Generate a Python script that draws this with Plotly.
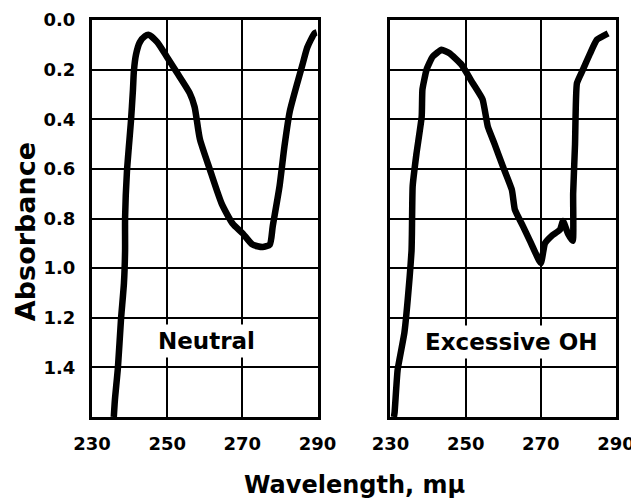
import plotly.graph_objects as go
from plotly.subplots import make_subplots

# Neutral curve (wavelength mμ, absorbance)
neutral_x = [235.8, 236.1, 236.9, 237.7, 238.5, 238.8, 238.8, 239.3, 240.35, 240.9, 241.15, 241.7, 242.7,
             244.1, 245.1, 247.3, 249.9, 252.5, 256.0, 257.3, 258.7, 261.3, 264.5, 267.4, 270.1,
             272.7, 275.4, 277.3, 278.1, 279.9, 281.2, 282.6, 284.7, 286.0, 287.3, 289.2, 289.8]
neutral_y = [1.60, 1.53, 1.40, 1.21, 1.06, 0.93, 0.80, 0.61, 0.41, 0.28, 0.205, 0.14, 0.09,
             0.065, 0.06, 0.088, 0.148, 0.21, 0.295, 0.35, 0.48, 0.60, 0.74, 0.82, 0.86,
             0.905, 0.915, 0.905, 0.83, 0.67, 0.51, 0.37, 0.25, 0.18, 0.11, 0.054, 0.05]

# Excessive OH curve
oh_x = [230.9, 231.1, 231.9, 233.7, 235.1, 235.6, 235.7, 235.9, 236.9, 238.3, 238.5, 239.6, 241.2,
        243.6, 245.7, 248.9, 251.9, 254.5, 255.9, 257.7, 259.9, 262.3, 263.1, 265.2, 267.1,
        270.0, 271.1, 272.9, 275.1, 275.9, 277.2, 278.5, 278.6, 279.1, 279.6, 281.2, 283.1,
        284.9, 287.9]
oh_y = [1.60, 1.58, 1.41, 1.26, 1.035, 0.93, 0.86, 0.67, 0.54, 0.39, 0.28, 0.20, 0.148,
        0.12, 0.134, 0.18, 0.255, 0.32, 0.43, 0.50, 0.59, 0.685, 0.765, 0.83, 0.89,
        0.98, 0.90, 0.87, 0.845, 0.81, 0.86, 0.89, 0.70, 0.50, 0.255, 0.20, 0.135,
        0.08, 0.054]

x_ticks = [230, 250, 270, 290]
y_grid = [0.0, 0.2, 0.4, 0.6, 0.8, 1.0, 1.2, 1.4, 1.6]
panel_labels = ["Neutral", "Excessive OH"]
label_pos = [(260.4, 1.294), (262.1, 1.298)]

FONT = "DejaVu Sans"

fig = make_subplots(rows=1, cols=2, horizontal_spacing=0.1393)

fig.add_trace(go.Scatter(x=neutral_x, y=neutral_y, mode="lines",
                         line=dict(color="black", width=6.5, shape="spline", smoothing=0.6),
                         showlegend=False), row=1, col=1)
fig.add_trace(go.Scatter(x=oh_x, y=oh_y, mode="lines",
                         line=dict(color="black", width=6.5, shape="spline", smoothing=0.4),
                         showlegend=False), row=1, col=2)

for c in (1, 2):
    fig.update_xaxes(row=1, col=c, range=[230, 290], tickvals=x_ticks,
                     ticktext=[f"<b>{v}</b>" for v in x_ticks],
                     showgrid=True, gridcolor="black", gridwidth=1.5,
                     showline=True, linecolor="black", linewidth=3, mirror=True,
                     ticks="", zeroline=False, ticklabelstandoff=8, automargin=False,
                     tickfont=dict(family=FONT, size=18, color="black"))
    fig.update_yaxes(row=1, col=c, range=[1.6, 0], tickvals=y_grid,
                     ticktext=[f"<b>{v:.1f}</b>" if (c == 1 and v < 1.5) else "" for v in y_grid],
                     showticklabels=(c == 1),
                     showgrid=True, gridcolor="black", gridwidth=1.5,
                     showline=True, linecolor="black", linewidth=3, mirror=True,
                     ticks="", zeroline=False, ticklabelstandoff=10, automargin=False,
                     tickfont=dict(family=FONT, size=18, color="black"))

for i, (txt, (ax, ay)) in enumerate(zip(panel_labels, label_pos)):
    fig.add_annotation(x=ax, y=ay, xref=f"x{'' if i == 0 else 2}", yref=f"y{'' if i == 0 else 2}",
                       text=f"<b>{txt}</b>", showarrow=False, bgcolor="white", borderpad=3,
                       xanchor="center", yanchor="middle",
                       font=dict(family=FONT, size=23, color="black"))

fig.add_annotation(x=0.5, y=-0.171, xref="paper", yref="paper", text="<b>Wavelength, mμ</b>",
                   xanchor="center", yanchor="middle",
                   showarrow=False, font=dict(family=FONT, size=24, color="black"))
fig.add_annotation(x=-0.128, y=0.468, xref="paper", yref="paper", text="<b>Absorbance</b>",
                   xanchor="center", yanchor="middle",
                   textangle=-90, showarrow=False, font=dict(family=FONT, size=27, color="black"))

# page body has an 8px margin, so the figure is shrunk by 8px and the margins shifted
fig.update_layout(width=631, height=495, margin=dict(l=84, r=23, t=12, b=86, autoexpand=False),
                  plot_bgcolor="white", paper_bgcolor="white")

fig.write_html("out.html")
